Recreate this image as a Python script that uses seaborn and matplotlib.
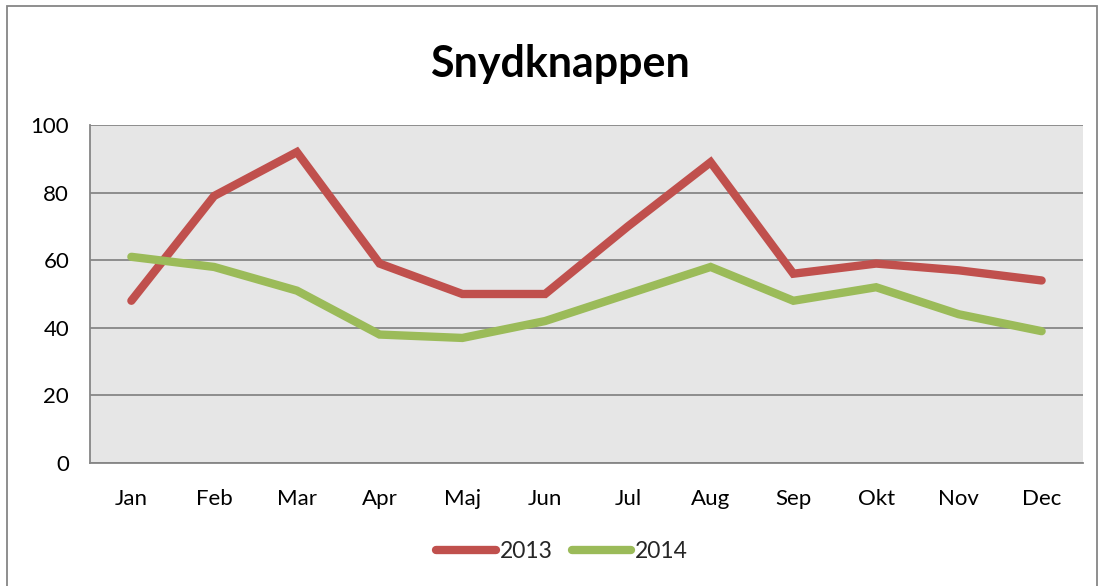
import matplotlib
matplotlib.use("Agg")
import matplotlib.pyplot as plt
import seaborn as sns
import pandas as pd
from matplotlib.patches import Rectangle
from matplotlib.lines import Line2D

months = ["Jan", "Feb", "Mar", "Apr", "Maj", "Jun", "Jul", "Aug", "Sep", "Okt", "Nov", "Dec"]
values_2013 = [48, 79, 92, 59, 50, 50, 70, 89, 56, 59, 57, 54]
values_2014 = [61, 58, 51, 38, 37, 42, 50, 58, 48, 52, 44, 39]
series_names = ["2013", "2014"]
y_ticks = [0, 20, 40, 60, 80, 100]
title = "Snydknappen"

sns.set_theme(style="white")
plt.rcParams['font.family'] = ['Lato', 'DejaVu Sans']

df = pd.DataFrame({
    "Måned": months * 2,
    "x": list(range(len(months))) * 2,
    "Værdi": values_2013 + values_2014,
    "Serie": [series_names[0]] * len(months) + [series_names[1]] * len(months),
})

fig = plt.figure(figsize=(10.99, 5.86), dpi=100)
ax = fig.add_axes([90 / 1099, 1 - 463 / 586, (1083 - 90) / 1099, (463 - 125) / 586])
ax.set_facecolor("#E6E6E6")

palette = {"2013": "#C0504D", "2014": "#9BBB59"}
sns.lineplot(data=df, x="x", y="Værdi", hue="Serie", palette=palette, ax=ax,
             linewidth=6.0, legend=False, sort=False,
             solid_capstyle="round", solid_joinstyle="miter")

ax.set_xlim(-0.5, len(months) - 0.5)
ax.set_ylim(0, 100)
ax.set_yticks(y_ticks)
ax.set_yticklabels([str(t) for t in y_ticks], fontsize=16)
ax.set_xticks(range(len(months)))
ax.set_xticklabels(months, fontsize=16)
ax.tick_params(axis="both", length=0)
ax.tick_params(axis="y", pad=15)
ax.tick_params(axis="x", pad=19)
ax.set_xlabel("")
ax.set_ylabel("")
ax.yaxis.grid(True, color="#868686", linewidth=1.3)
ax.set_axisbelow(True)
for side in ["top", "right"]:
    ax.spines[side].set_visible(False)
for side in ["left", "bottom"]:
    ax.spines[side].set_color("#868686")
    ax.spines[side].set_linewidth(1.3)
for lbl in ax.get_yticklabels() + ax.get_xticklabels():
    lbl.set_color("black")

fig.text(560 / 1099, 1 - 64 / 586, title, ha="center", va="center",
         fontsize=31, fontweight="bold", color="black")

handles = [Line2D([0], [0], color=palette[s], linewidth=6.0, solid_capstyle="round") for s in series_names]
fig.legend(handles, series_names, loc="center", bbox_to_anchor=(562 / 1099, 1 - 552 / 586),
           ncol=2, frameon=False, fontsize=16.5, handlelength=2.6, handletextpad=0.15,
           columnspacing=0.85)

fig.patches.append(Rectangle((7 / 1099, -0.01), (1097 - 7) / 1099, 1 - 6 / 586 + 0.01,
                             transform=fig.transFigure, fill=False,
                             edgecolor="#868686", linewidth=1.3))

fig.savefig("out.png", dpi=100)
